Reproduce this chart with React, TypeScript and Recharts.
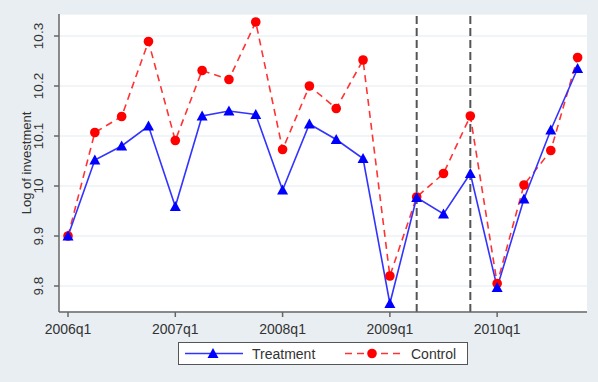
import React from 'react';
import { LineChart, Line, XAxis, YAxis, CartesianGrid, ReferenceLine } from 'recharts';

const quarters = [
  '2006q1','2006q2','2006q3','2006q4',
  '2007q1','2007q2','2007q3','2007q4',
  '2008q1','2008q2','2008q3','2008q4',
  '2009q1','2009q2','2009q3','2009q4',
  '2010q1','2010q2','2010q3','2010q4',
];
const treatment = [9.90, 10.052, 10.08, 10.12, 9.959, 10.14, 10.15, 10.143, 9.992, 10.124, 10.093, 10.055, 9.765, 9.977, 9.944, 10.025, 9.797, 9.974, 10.112, 10.235];
const control = [9.90, 10.107, 10.139, 10.289, 10.091, 10.231, 10.213, 10.328, 10.073, 10.2, 10.155, 10.252, 9.82, 9.978, 10.025, 10.14, 9.805, 10.002, 10.071, 10.257];
const xTickLabels = ['2006q1', '2007q1', '2008q1', '2009q1', '2010q1'];
const yTicks = [9.8, 9.9, 10, 10.1, 10.2, 10.3];
const eventQuarters = ['2009q2', '2009q4'];

const data = quarters.map((q, i) => ({ i, q, treatment: treatment[i], control: control[i] }));
const xTicks = xTickLabels.map((l) => quarters.indexOf(l));

const FONT = '"Liberation Sans", Arial, sans-serif';

const Triangle = (props: any) => {
  const { cx, cy, index } = props;
  const s = 5.5;
  return (
    <polygon
      key={`t${index}`}
      points={`${cx},${cy - s} ${cx - s},${cy + s * 0.8} ${cx + s},${cy + s * 0.8}`}
      fill="#0000ff"
    />
  );
};
const Circle = (props: any) => {
  const { cx, cy, index } = props;
  return <circle key={`c${index}`} cx={cx} cy={cy} r={4.8} fill="#ff0000" />;
};

const YTick = (props: any) => {
  const { x, y, payload } = props;
  return (
    <text
      x={x - 9}
      y={y}
      transform={`rotate(-90 ${x - 9} ${y})`}
      textAnchor="middle"
      fill="#333"
      fontSize={13.5}
      fontFamily={FONT}
    >
      {String(payload.value)}
    </text>
  );
};

export default function App() {
  return (
    <div style={{ position: 'absolute', left: 0, top: 0, width: 598, height: 382, background: '#e8eef2' }}>
      <LineChart width={598} height={382} data={data} margin={{ top: 14, right: 11, bottom: 0, left: 0 }}>
        <CartesianGrid vertical={false} stroke="#e3ebf1" strokeWidth={1.2} fill="#ffffff" />
        <XAxis
          dataKey="i"
          type="number"
          domain={[-0.336, 19.35]}
          ticks={xTicks}
          tickFormatter={(v: number) => quarters[v]}
          stroke="#666"
          strokeWidth={1.5}
          tickSize={5}
          height={70}
          tick={{ fill: '#333', fontSize: 14, fontFamily: FONT, dy: 5 }}
          interval={0}
        />
        <YAxis
          type="number"
          domain={[9.748, 10.344]}
          ticks={yTicks}
          width={59}
          stroke="#666"
          strokeWidth={1.5}
          tickSize={5}
          tick={<YTick />}
          interval={0}
          allowDataOverflow
          label={{
            content: () => (
              <text
                x={26}
                y={163}
                transform={`rotate(-90 26 163)`}
                textAnchor="middle"
                dominantBaseline="central"
                fill="#333"
                fontSize={13}
                fontFamily={FONT}
              >
                Log of investment
              </text>
            ),
          }}
        />
        {eventQuarters.map((q) => (
          <ReferenceLine key={q} x={quarters.indexOf(q)} stroke="#555" strokeWidth={2} strokeDasharray="8 4" />
        ))}
        <Line
          type="linear"
          dataKey="control"
          stroke="#ff3333"
          strokeWidth={1.6}
          strokeDasharray="7 5"
          dot={<Circle />}
          isAnimationActive={false}
        />
        <Line
          type="linear"
          dataKey="treatment"
          stroke="#3333ff"
          strokeWidth={1.6}
          dot={<Triangle />}
          isAnimationActive={false}
        />
      </LineChart>
      <div style={{ position: 'absolute', left: 178, top: 342, width: 290, height: 23, background: '#fff', border: '1px solid #555', boxSizing: 'border-box' }}>
        <svg width={288} height={21} style={{ position: 'absolute', left: 0, top: 0 }}>
          <line x1={6} y1={10.5} x2={64} y2={10.5} stroke="#3333ff" strokeWidth={1.5} />
          <polygon points="34,5 28.5,14.9 39.5,14.9" fill="#0000ff" />
          <text x={73} y={15.5} fontSize={14} fontFamily={FONT} fill="#333">Treatment</text>
          <line x1={166} y1={10.5} x2={224} y2={10.5} stroke="#ff3333" strokeWidth={1.5} strokeDasharray="7 5" />
          <circle cx={193} cy={10.5} r={4.8} fill="#ff0000" />
          <text x={232} y={15.5} fontSize={14} fontFamily={FONT} fill="#333">Control</text>
        </svg>
      </div>
    </div>
  );
}
